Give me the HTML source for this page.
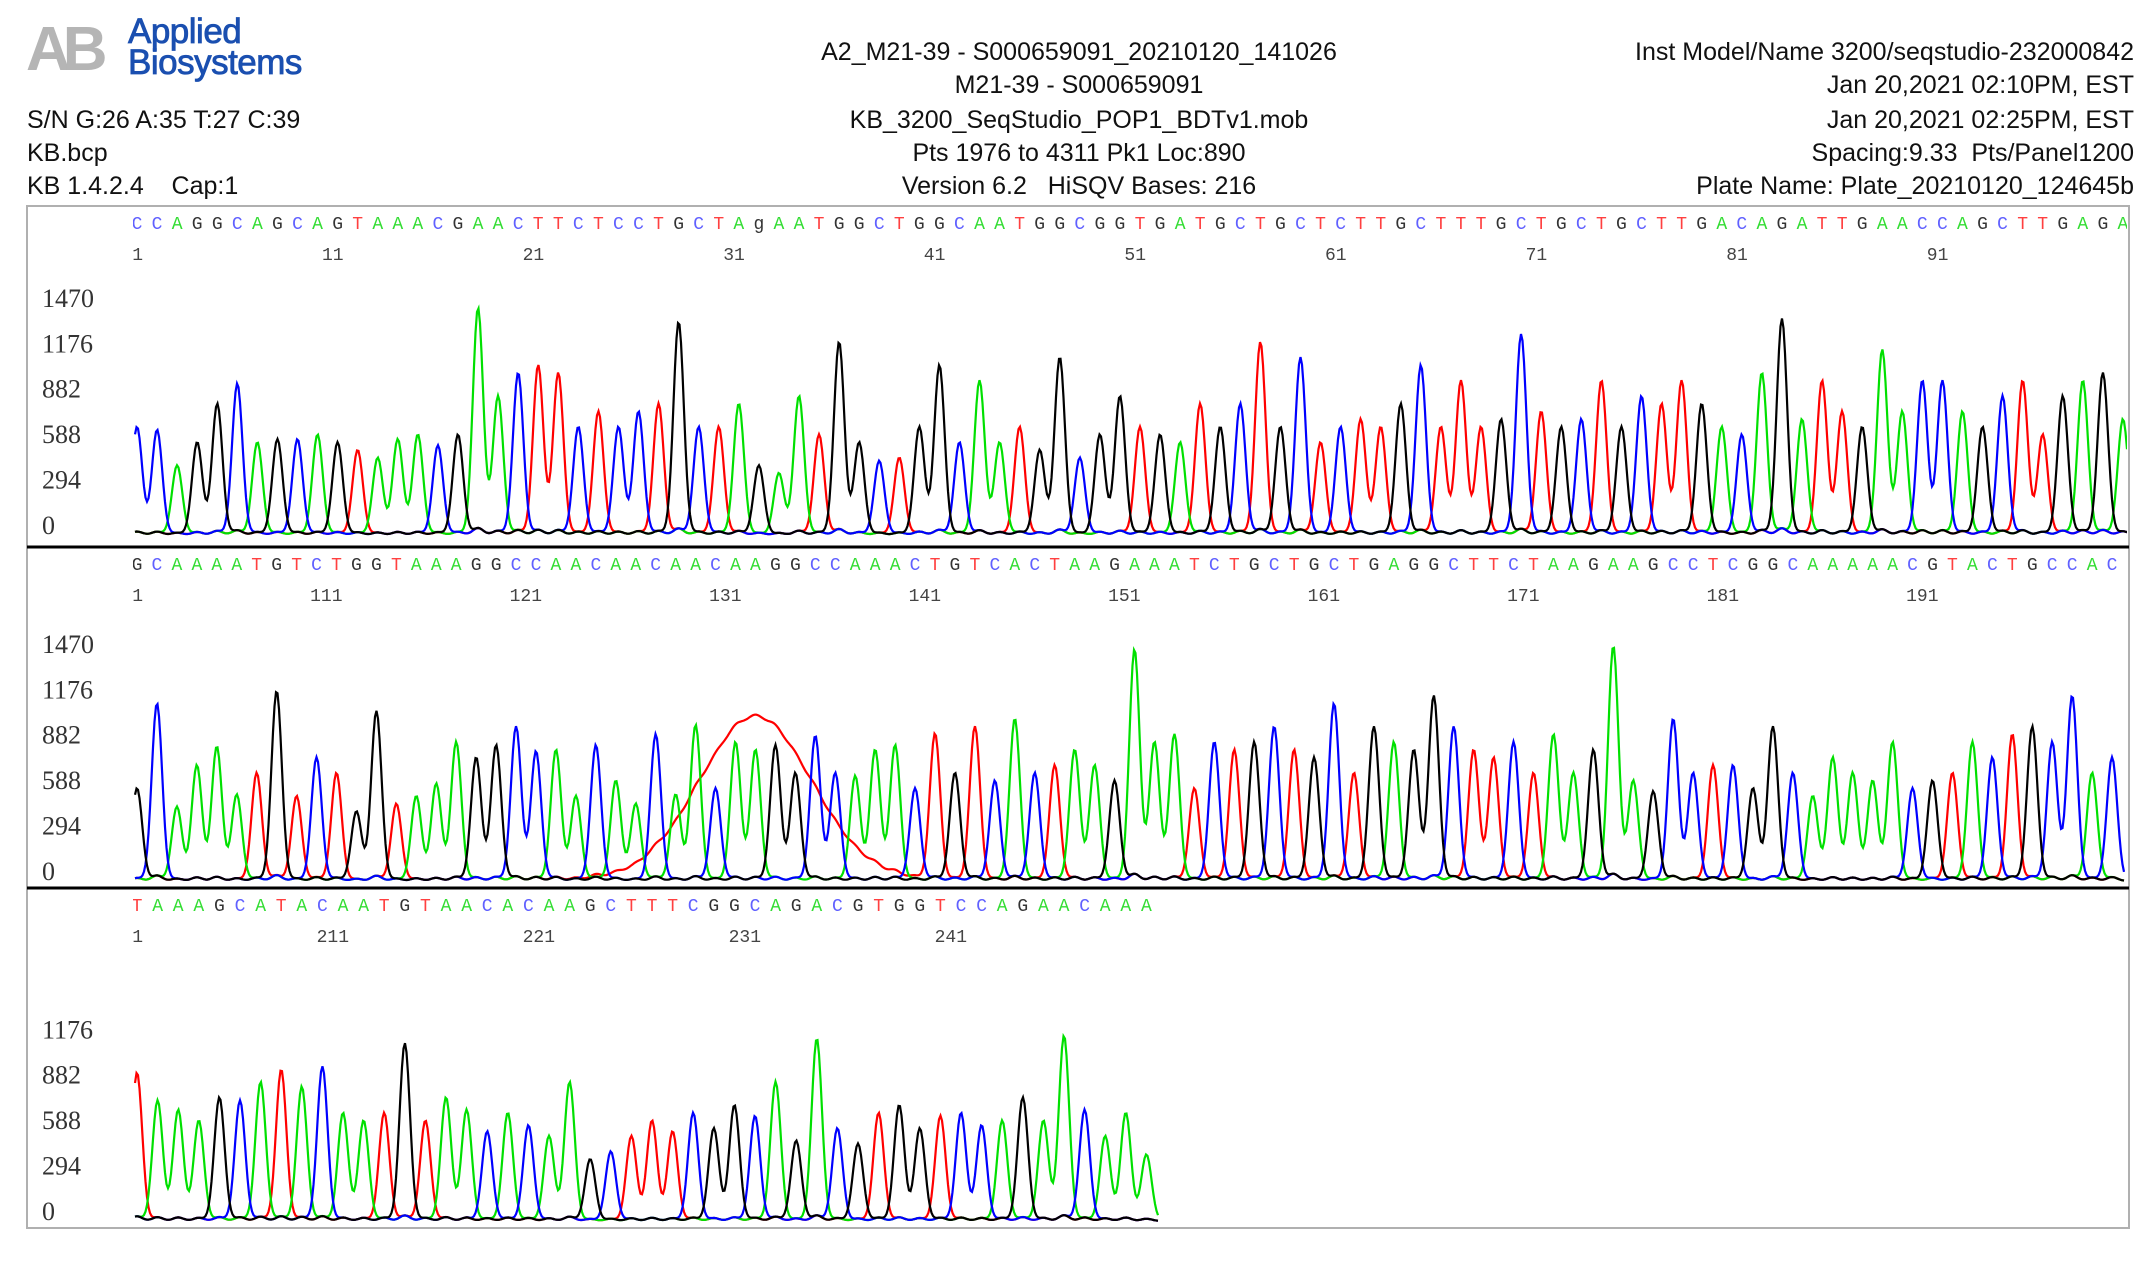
<!DOCTYPE html>
<html><head><meta charset="utf-8">
<style>
html,body{margin:0;padding:0;background:#fff;}
body{width:2156px;height:1264px;position:relative;overflow:hidden;font-family:"Liberation Sans",sans-serif;}
.h{position:absolute;font-size:25px;color:#111;white-space:nowrap;line-height:28px;letter-spacing:0px}
.c{transform:translateX(-50%)}
.r{text-align:right}
</style></head><body>
<div style="position:absolute;left:26px;top:18px;width:290px;height:66px">
 <div style="position:absolute;left:0;top:0;font:bold 62px 'Liberation Sans',sans-serif;color:#b5b5b5;letter-spacing:-8px;line-height:64px">AB</div>
 <div style="position:absolute;left:102px;top:-2px;font:35px 'Liberation Sans',sans-serif;color:#1a4fb0;line-height:31px;letter-spacing:-0.5px;-webkit-text-stroke:0.8px #1a4fb0">Applied<br>Biosystems</div>
</div>
<div class="h" style="left:27px;top:106px">S/N G:26 A:35 T:27 C:39</div>
<div class="h" style="left:27px;top:139px">KB.bcp</div>
<div class="h" style="left:27px;top:172px">KB 1.4.2.4 &nbsp;&nbsp;&nbsp;Cap:1</div>
<div class="h c" style="left:1079px;top:38px">A2_M21-39 - S000659091_20210120_141026</div>
<div class="h c" style="left:1079px;top:71px">M21-39 - S000659091</div>
<div class="h c" style="left:1079px;top:106px">KB_3200_SeqStudio_POP1_BDTv1.mob</div>
<div class="h c" style="left:1079px;top:139px">Pts 1976 to 4311 Pk1 Loc:890</div>
<div class="h c" style="left:1079px;top:172px">Version 6.2 &nbsp;&nbsp;HiSQV Bases: 216</div>
<div class="h r" style="right:22px;top:38px">Inst Model/Name 3200/seqstudio-232000842</div>
<div class="h r" style="right:22px;top:71px">Jan 20,2021 02:10PM, EST</div>
<div class="h r" style="right:22px;top:106px">Jan 20,2021 02:25PM, EST</div>
<div class="h r" style="right:22px;top:139px">Spacing:9.33 &nbsp;Pts/Panel1200</div>
<div class="h r" style="right:22px;top:172px">Plate Name: Plate_20210120_124645b</div>

<svg id="chart" width="2156" height="1264" style="position:absolute;left:0;top:0" xmlns="http://www.w3.org/2000/svg"></svg>

<script>
// ---- data ----
const seq1 = "CCAGGCAGCAGTAAACGAACTTCTCCTGCTAgAATGGCTGGCAATGGCGGTGATGCTGCTCTTGCTTTGCTGCTGCTTGACAGATTGAACCAGCTTGAGA";
const seq2 = "GCAAAATGTCTGGTAAAGGCCAACAACAACAAGGCCAAACTGTCACTAAGAAATCTGCTGCTGAGGCTTCTAAGAAGCCTCGGCAAAAACGTACTGCCAC";
const seq3 = "TAAAGCATACAATGTAACACAAGCTTTCGGCAGACGTGGTCCAGAACAAA";
const heights1 = [700,680,450,600,850,980,600,620,620,650,
 600,550,500,620,650,580,650,1470,900,1050,
 1100,1050,700,800,700,800,850,1380,700,700,
 850,450,400,900,650,1250,600,480,500,700,
 1100,600,1000,600,700,550,1150,500,650,900,
 700,650,600,850,700,850,1250,700,1150,600,
 700,750,700,850,1100,700,1000,700,750,1300,
 800,700,750,1000,700,900,850,1000,850,700,
 650,1050,1400,750,1000,800,700,1200,800,1000,
 1000,800,700,900,1000,650,900,1000,1050,750];
const heights2 = [600,1150,480,750,870,560,700,1230,550,800,
 700,450,1100,500,550,630,900,800,880,1000,
 840,850,550,880,650,500,950,560,1010,600,
 900,850,880,700,940,700,680,850,880,600,
 950,700,1000,650,1050,700,750,850,750,650,
 1500,900,950,600,900,850,900,1000,850,800,
 1150,700,1000,900,850,1200,1000,850,800,900,
 700,950,700,850,1520,650,580,1050,700,750,
 750,600,1000,700,550,800,700,650,900,600,
 650,700,900,800,950,1000,900,1200,700,800];
const heights3 = [960,780,720,650,800,780,900,980,870,1000,
 700,650,700,1150,650,800,720,580,700,620,
 550,900,400,450,550,650,580,700,600,750,
 680,900,520,1180,600,500,700,750,600,680,
 700,620,650,800,650,1200,720,550,700,430];
const ticks12 = [0,294,588,882,1176,1470];
const ticks3 = [0,294,588,882,1176];
const blobCenter = 132, blobHeight = 1050, blobWidth = 2.8; // in bases
// ---- layout ----
const svg = document.getElementById('chart');
const NS = "http://www.w3.org/2000/svg";
const colors = {A:'#00e000',C:'#0000ff',G:'#000000',T:'#ff0000'};
const textColors = {A:'#33dd33',C:'#6060ff',G:'#333333',T:'#ff4040'};
const X0 = 137, KY = 0.1545;
const panels = [
 {seq:seq1,h:heights1,start:1,top:206,bottom:547,base:536,ticks:ticks12,dx:20.06},
 {seq:seq2,h:heights2,start:101,top:547,bottom:888,base:882,ticks:ticks12,dx:19.95},
 {seq:seq3,h:heights3,start:201,top:888,bottom:1228,base:1222,ticks:ticks3,dx:20.6}
];
function el(tag, attrs){const e=document.createElementNS(NS,tag);for(const k in attrs)e.setAttribute(k,attrs[k]);return e;}
const frame = el('rect',{x:27,y:206,width:2102,height:1022,fill:'none',stroke:'#b0b0b0','stroke-width':2});


svg.appendChild(frame);
panels.forEach((p,pi)=>{
  const DX = p.dx;
  const xScale = (i)=> X0 + i*DX;
  const yScale = (v)=> p.base - v*KY;
  const g = el('g',{});
  
  
  svg.appendChild(g);
  const clipId='clip'+pi;
  const cp=el('clipPath',{id:clipId}); cp.appendChild(el('rect',{x:133,y:p.top,width:1994,height:p.bottom-p.top}));
  svg.appendChild(cp);
  if(pi>0){
    const sep=el('line',{x1:27,x2:2129,y1:p.top,y2:p.top,stroke:'#000','stroke-width':3});
    
    
    g.appendChild(sep);
  }
  p.ticks.forEach(t=>{
    const tx=el('text',{x:42,y:yScale(t)-10+8,'font-family':'Liberation Serif, serif','font-size':26,fill:'#333'});
    tx.textContent=t;
    
    
    g.appendChild(tx);
  });
  const sg=el('g',{'clip-path':'url(#'+clipId+')'}); g.appendChild(sg);
  for(let i=0;i<p.seq.length;i++){
    const b=p.seq[i].toUpperCase();
    const t=el('text',{x:xScale(i),y:p.top+23,'font-family':'Liberation Mono, monospace','font-size':18,fill:textColors[b],'text-anchor':'middle'});
    t.textContent=p.seq[i];
    
    
    sg.appendChild(t);
    const n=p.start+i;
    if(n%10===1){
      const nt=el('text',{x:xScale(i)+6,y:p.top+54,'font-family':'Liberation Mono, monospace','font-size':18,fill:'#444','text-anchor':'end'});
      nt.textContent=n;
      
      
      sg.appendChild(nt);
    }
  }
  const endX = xScale(p.seq.length-1)+12;
  ['T','A','C','G'].forEach(ch=>{
    let d='';
    for(let x=135;x<=Math.min(endX,2127);x+=1.5){
      let v=8;
      for(let i=0;i<p.seq.length;i++){
        const dx=x-xScale(i); if(Math.abs(dx)>30)continue;
        const b=p.seq[i].toUpperCase();
        const s=(b===ch)?p.h[i]:p.h[i]*0.03;
        v+=s*Math.exp(-dx*dx/(2*5.2*5.2));
      }
      if(ch==='T' && pi===1){
        const bc=(x-xScale(blobCenter-p.start))/DX;
        v+=blobHeight*Math.exp(-bc*bc/(2*blobWidth*blobWidth));
      }
      d+=(d?'L':'M')+x.toFixed(1)+' '+yScale(v).toFixed(1);
    }
    const path=el('path',{d:d,fill:'none',stroke:colors[ch],'stroke-width':2.2,'clip-path':'url(#'+clipId+')'});
    
    
    g.appendChild(path);
  });
});
</script>
</body></html>
